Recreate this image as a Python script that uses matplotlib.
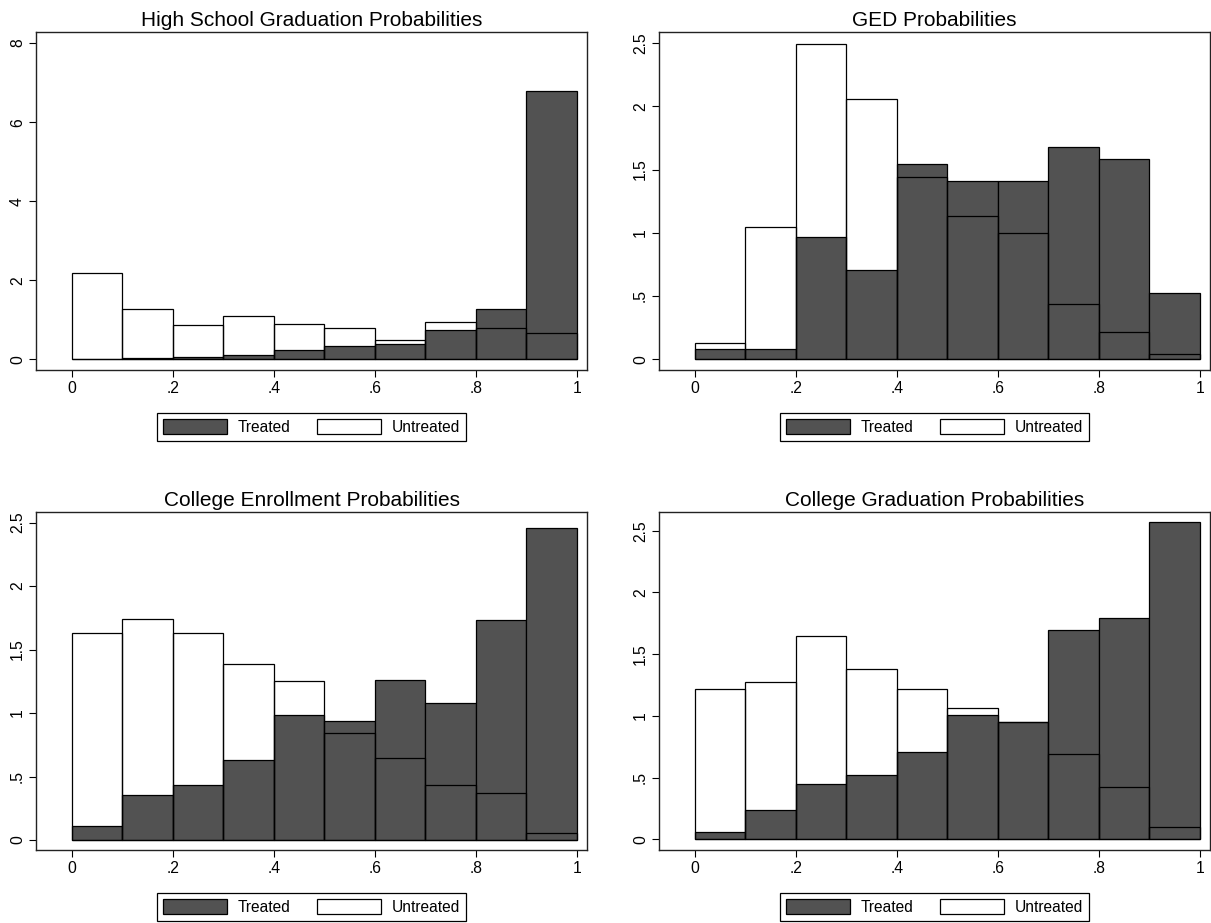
import matplotlib
matplotlib.use("Agg")
import matplotlib.pyplot as plt
import numpy as np

plt.rcParams['font.family'] = ['Liberation Sans', 'DejaVu Sans']

# bins: 0 to 1 in steps of .1 (density heights)
bin_edges = np.round(np.arange(0, 1.0, 0.1), 1)

titles = ["High School Graduation Probabilities", "GED Probabilities",
          "College Enrollment Probabilities", "College Graduation Probabilities"]

hs_treated = [0.01, 0.03, 0.07, 0.11, 0.245, 0.34, 0.38, 0.74, 1.27, 6.79]
hs_untreated = [2.18, 1.27, 0.87, 1.10, 0.89, 0.78, 0.48, 0.94, 0.78, 0.66]

ged_treated = [0.084, 0.084, 0.968, 0.704, 1.543, 1.41, 1.41, 1.677, 1.585, 0.527]
ged_untreated = [0.127, 1.044, 2.49, 2.054, 1.44, 1.13, 1.00, 0.435, 0.214, 0.04]

ce_treated = [0.108, 0.356, 0.435, 0.63, 0.986, 0.939, 1.263, 1.076, 1.733, 2.46]
ce_untreated = [1.63, 1.738, 1.63, 1.387, 1.255, 0.844, 0.649, 0.432, 0.372, 0.055]

cg_treated = [0.057, 0.24, 0.446, 0.524, 0.705, 1.008, 0.954, 1.695, 1.797, 2.568]
cg_untreated = [1.22, 1.273, 1.646, 1.381, 1.22, 1.062, 0.949, 0.689, 0.422, 0.103]

treated = [hs_treated, ged_treated, ce_treated, cg_treated]
untreated = [hs_untreated, ged_untreated, ce_untreated, cg_untreated]

xticks = [0, 0.2, 0.4, 0.6, 0.8, 1]
xticklabels = ["0", ".2", ".4", ".6", ".8", "1"]
yticks_hs = [0, 2, 4, 6, 8]
yticklabels_hs = ["0", "2", "4", "6", "8"]
yticks_other = [0, 0.5, 1, 1.5, 2, 2.5]
yticklabels_other = ["0", ".5", "1", "1.5", "2", "2.5"]

ylims = [(-0.27, 8.28), (-0.085, 2.587), (-0.079, 2.584), (-0.087, 2.652)]

W, H = 1211, 923
fig = plt.figure(figsize=(W / 100, H / 100), dpi=100)

# axes boxes in pixels: left, top, right, bottom
boxes = [(36, 32, 587, 370), (659, 32, 1210, 370),
         (36, 512, 587, 850), (659, 512, 1210, 850)]

dark = '#525252'

for i in range(4):
    l, t, r, b = boxes[i]
    ax = fig.add_axes([l / W, 1 - b / H, (r - l) / W, (b - t) / H])
    ax.bar(bin_edges, treated[i], width=0.1, align='edge', color=dark,
           edgecolor='black', linewidth=0.9, label='Treated')
    ax.bar(bin_edges, untreated[i], width=0.1, align='edge', facecolor='none',
           edgecolor='black', linewidth=0.9, label='Untreated')
    ax.set_xlim(-0.071, 1.02)
    ax.set_ylim(*ylims[i])
    ax.set_xticks(xticks)
    ax.set_xticklabels(xticklabels)
    if i == 0:
        ax.set_yticks(yticks_hs)
        ax.set_yticklabels(yticklabels_hs, rotation=90, va='center')
    else:
        ax.set_yticks(yticks_other)
        ax.set_yticklabels(yticklabels_other, rotation=90, va='center')
    ax.tick_params(labelsize=11.3, length=5, width=0.8, direction='out', pad=3)
    for s in ax.spines.values():
        s.set_linewidth(1.0)
        s.set_color('#222222')
    ax.set_title(titles[i], fontsize=15, pad=4)
    leg = ax.legend(loc='center', bbox_to_anchor=(0.5, -0.169), ncol=2,
                    fontsize=11.2, handlelength=4.1, handleheight=1.1,
                    handletextpad=0.7, columnspacing=1.7, borderpad=0.4,
                    fancybox=False, edgecolor='black', framealpha=1)
    leg.get_frame().set_linewidth(0.9)

plt.savefig('out.png', dpi=100)
